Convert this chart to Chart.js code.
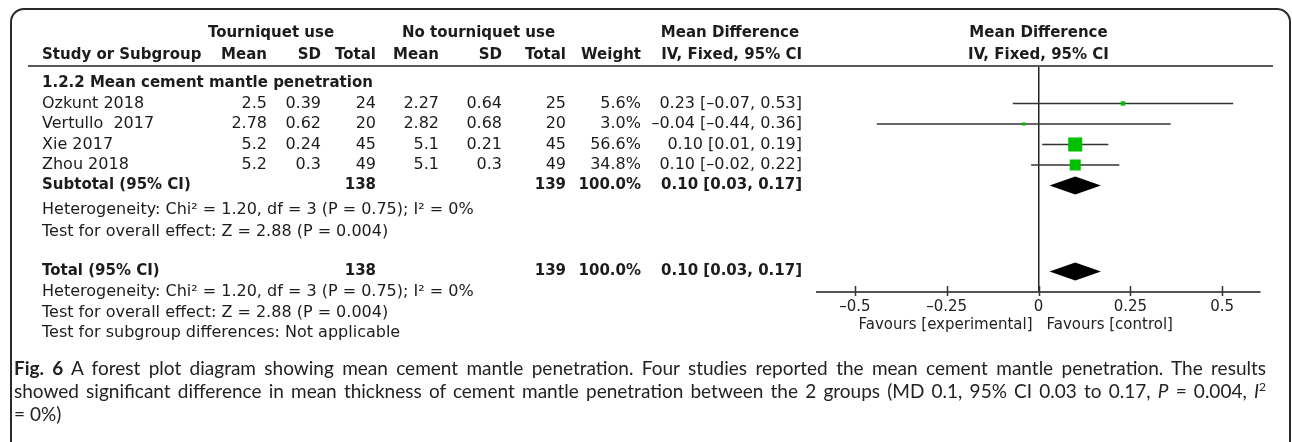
<!DOCTYPE html>
<html><head><meta charset="utf-8">
<script src="https://cdn.jsdelivr.net/npm/chart.js@4.4.1/dist/chart.umd.min.js"></script>
<style>
html,body{margin:0;padding:0;background:#fff;}
#wrap{position:relative;width:1292px;height:442px;overflow:hidden;background:#fff;}
#chartBox{position:absolute;left:0;top:0;width:1292px;height:442px;}
#frame{position:absolute;left:10px;top:8px;width:1281px;height:470px;box-sizing:border-box;border:2px solid #2a2a2a;border-radius:14px;pointer-events:none;}
#caption{position:absolute;left:14px;top:356px;width:1252px;font-family:Lato,"Open Sans",sans-serif;font-size:19px;line-height:23px;color:#222;}
#caption div{white-space:nowrap;text-align:justify;text-align-last:justify;height:23px;}
#caption div.last{text-align-last:left;}
#caption sup{font-size:12px;line-height:0;vertical-align:7px;}
</style></head><body>
<div id="wrap">
<div id="chartBox"><canvas id="c" width="1292" height="442"></canvas></div>
<div id="frame"></div>
<div id="caption">
<div><b>Fig. 6</b> A forest plot diagram showing mean cement mantle penetration. Four studies reported the mean cement mantle penetration. The results</div>
<div>showed significant difference in mean thickness of cement mantle penetration between the 2 groups (MD 0.1, 95% CI 0.03 to 0.17, <i>P</i> = 0.004, <i>I</i><sup>2</sup></div>
<div class="last">= 0%)</div>
</div>
</div>
<script>
// ---------- data ----------
const sectionTitle = '1.2.2 Mean cement mantle penetration';
const studies  = ['Ozkunt 2018', 'Vertullo  2017', 'Xie 2017', 'Zhou 2018'];
const expMean  = [2.5, 2.78, 5.2, 5.2];
const expSD    = [0.39, 0.62, 0.24, 0.3];
const expN     = [24, 20, 45, 49];
const ctlMean  = [2.27, 2.82, 5.1, 5.1];
const ctlSD    = [0.64, 0.68, 0.21, 0.3];
const ctlN     = [25, 20, 45, 49];
const weights  = [5.6, 3.0, 56.6, 34.8];
const md       = [0.23, -0.04, 0.10, 0.10];
const ciLow    = [-0.07, -0.44, 0.01, -0.02];
const ciHigh   = [0.53, 0.36, 0.19, 0.22];
const pooled   = [0.10, 0.03, 0.17];      // MD, lower, upper
const totalN   = [138, 139];
const heterogeneityText = 'Heterogeneity: Chi² = 1.20, df = 3 (P = 0.75); I² = 0%';
const overallText = 'Test for overall effect: Z = 2.88 (P = 0.004)';
const subgroupText = 'Test for subgroup differences: Not applicable';
const groupHeaders = ['Tourniquet use', 'No tourniquet use', 'Mean Difference'];
const colHeaders = ['Study or Subgroup', 'Mean', 'SD', 'Total', 'Mean', 'SD', 'Total', 'Weight', 'IV, Fixed, 95% CI'];
const xTicks = [-0.5, -0.25, 0, 0.25, 0.5];
const xTickLabels = ['\u20130.5', '\u20130.25', '0', '0.25', '0.5'];
const favours = ['Favours [experimental]', 'Favours [control]'];

// ---------- layout ----------
const ROW = {h1: -2.44, h2: -1.37, section: 0, subtotal: 5, het1: 6.2, test1: 7.25, total: 9.2, het2: 10.2, test2: 11.2, sub: 12.2};
const COLR = [267, 321, 376, 439, 502, 566, 641, 802];
const NAME_X = 42;
const FONT = '"DejaVu Sans", sans-serif';
const REG = '16px ' + FONT, BOLD = 'bold 15px ' + FONT, AX = '15px ' + FONT;

const fmt = v => (v < 0 ? '\u2013' : '') + Math.abs(v).toFixed(2);
const ciStr = (m, l, u) => fmt(m) + ' [' + fmt(l) + ', ' + fmt(u) + ']';

const tablePlugin = {
  id: 'forestTable',
  afterDraw(chart) {
    const ctx = chart.ctx, xs = chart.scales.x, ys = chart.scales.y, ca = chart.chartArea;
    const Y = r => ys.getPixelForValue(r);
    const X0 = xs.getPixelForValue(0);
    const t = (s, px, py, align, font, color) => {
      ctx.font = font; ctx.textAlign = align; ctx.fillStyle = color || '#1c1c1c'; ctx.fillText(s, px, py);
    };
    ctx.save();
    ctx.textBaseline = 'middle';
    // header rule
    ctx.strokeStyle = '#5a5a5a'; ctx.lineWidth = 2;
    ctx.beginPath(); ctx.moveTo(28, ca.top); ctx.lineTo(1273, ca.top); ctx.stroke();
    // group headers
    t(groupHeaders[0], (205 + 337) / 2, Y(ROW.h1), 'center', BOLD);
    t(groupHeaders[1], (412 + 545) / 2, Y(ROW.h1), 'center', BOLD);
    t(groupHeaders[2], 730, Y(ROW.h1), 'center', BOLD);
    t(groupHeaders[2], X0, Y(ROW.h1), 'center', BOLD);
    // column headers
    t(colHeaders[0], NAME_X, Y(ROW.h2), 'left', BOLD);
    for (let k = 1; k < colHeaders.length; k++) t(colHeaders[k], COLR[k - 1], Y(ROW.h2), 'right', BOLD);
    t(colHeaders[8], X0, Y(ROW.h2), 'center', BOLD);
    // section
    t(sectionTitle, NAME_X, Y(ROW.section), 'left', BOLD);
    // studies
    studies.forEach((s, i) => {
      const yy = Y(i + 1);
      t(s, NAME_X, yy, 'left', REG);
      const vals = [String(expMean[i]), String(expSD[i]), String(expN[i]), String(ctlMean[i]), String(ctlSD[i]), String(ctlN[i]), weights[i].toFixed(1) + '%', ciStr(md[i], ciLow[i], ciHigh[i])];
      vals.forEach((v, k) => t(v, COLR[k], yy, 'right', REG));
    });
    // subtotal + total rows
    [[ROW.subtotal, 'Subtotal (95% CI)'], [ROW.total, 'Total (95% CI)']].forEach(([r, label]) => {
      const yy = Y(r);
      t(label, NAME_X, yy, 'left', BOLD);
      t(String(totalN[0]), COLR[2], yy, 'right', BOLD);
      t(String(totalN[1]), COLR[5], yy, 'right', BOLD);
      t('100.0%', COLR[6], yy, 'right', BOLD);
      t(ciStr(pooled[0], pooled[1], pooled[2]), COLR[7], yy, 'right', BOLD);
      // diamond
      const xl = xs.getPixelForValue(pooled[1]), xm = xs.getPixelForValue(pooled[0]), xr = xs.getPixelForValue(pooled[2]);
      ctx.fillStyle = '#000';
      ctx.beginPath(); ctx.moveTo(xl, yy); ctx.lineTo(xm, yy - 9); ctx.lineTo(xr, yy); ctx.lineTo(xm, yy + 9); ctx.closePath(); ctx.fill();
    });
    t(heterogeneityText, NAME_X, Y(ROW.het1), 'left', REG);
    t(overallText, NAME_X, Y(ROW.test1), 'left', REG);
    t(heterogeneityText, NAME_X, Y(ROW.het2), 'left', REG);
    t(overallText, NAME_X, Y(ROW.test2), 'left', REG);
    t(subgroupText, NAME_X, Y(ROW.sub), 'left', REG);
    // axis tick marks
    ctx.strokeStyle = '#333'; ctx.lineWidth = 1.5;
    xTicks.forEach(v => {
      const px = Math.round(xs.getPixelForValue(v)) + 0.5;
      ctx.beginPath(); ctx.moveTo(px, ca.bottom - 6); ctx.lineTo(px, ca.bottom + 4); ctx.stroke();
    });
    // favours labels
    t(favours[0], X0 - 6, ca.bottom + 33, 'right', AX, '#222');
    t(favours[1], X0 + 8, ca.bottom + 33, 'left', AX, '#222');
    ctx.restore();
  }
};

const datasets = [{
  type: 'scatter',
  data: md.map((v, i) => ({x: v, y: i + 1})),
  pointStyle: 'rect',
  pointRadius: weights.map(w => 1.32 * Math.sqrt(w)),
  pointHoverRadius: weights.map(w => 1.32 * Math.sqrt(w)),
  backgroundColor: '#00c000',
  borderWidth: 0,
  clip: false
}].concat(studies.map((s, i) => ({
  type: 'line',
  data: [{x: ciLow[i], y: i + 1}, {x: ciHigh[i], y: i + 1}],
  borderColor: '#333',
  borderWidth: 1.5,
  pointRadius: 0,
  showLine: true,
  clip: false
})));

new Chart(document.getElementById('c'), {
  type: 'scatter',
  data: {datasets},
  options: {
    responsive: false,
    animation: false,
    events: [],
    layout: {padding: {left: 817, right: 32, top: 66, bottom: 0}},
    plugins: {legend: {display: false}, tooltip: {enabled: false}},
    scales: {
      x: {
        type: 'linear', position: 'bottom', min: -0.603, max: 0.603,
        afterBuildTicks: sc => { sc.ticks = xTicks.map(v => ({value: v})); },
        afterFit: sc => { sc.height = 150; },
        ticks: {callback: (v, i) => xTickLabels[i], font: {family: 'DejaVu Sans', size: 15}, color: '#222', padding: 6, maxRotation: 0, autoSkip: false},
        grid: {drawTicks: false, lineWidth: 1.5, color: c => (c.tick && c.tick.value === 0 ? '#222' : 'rgba(0,0,0,0)')},
        border: {display: true, color: '#555', width: 2}
      },
      y: {type: 'linear', reverse: true, min: -17 / 20.5, max: 209 / 20.5, display: false}
    }
  },
  plugins: [tablePlugin]
});
</script>
</body></html>
